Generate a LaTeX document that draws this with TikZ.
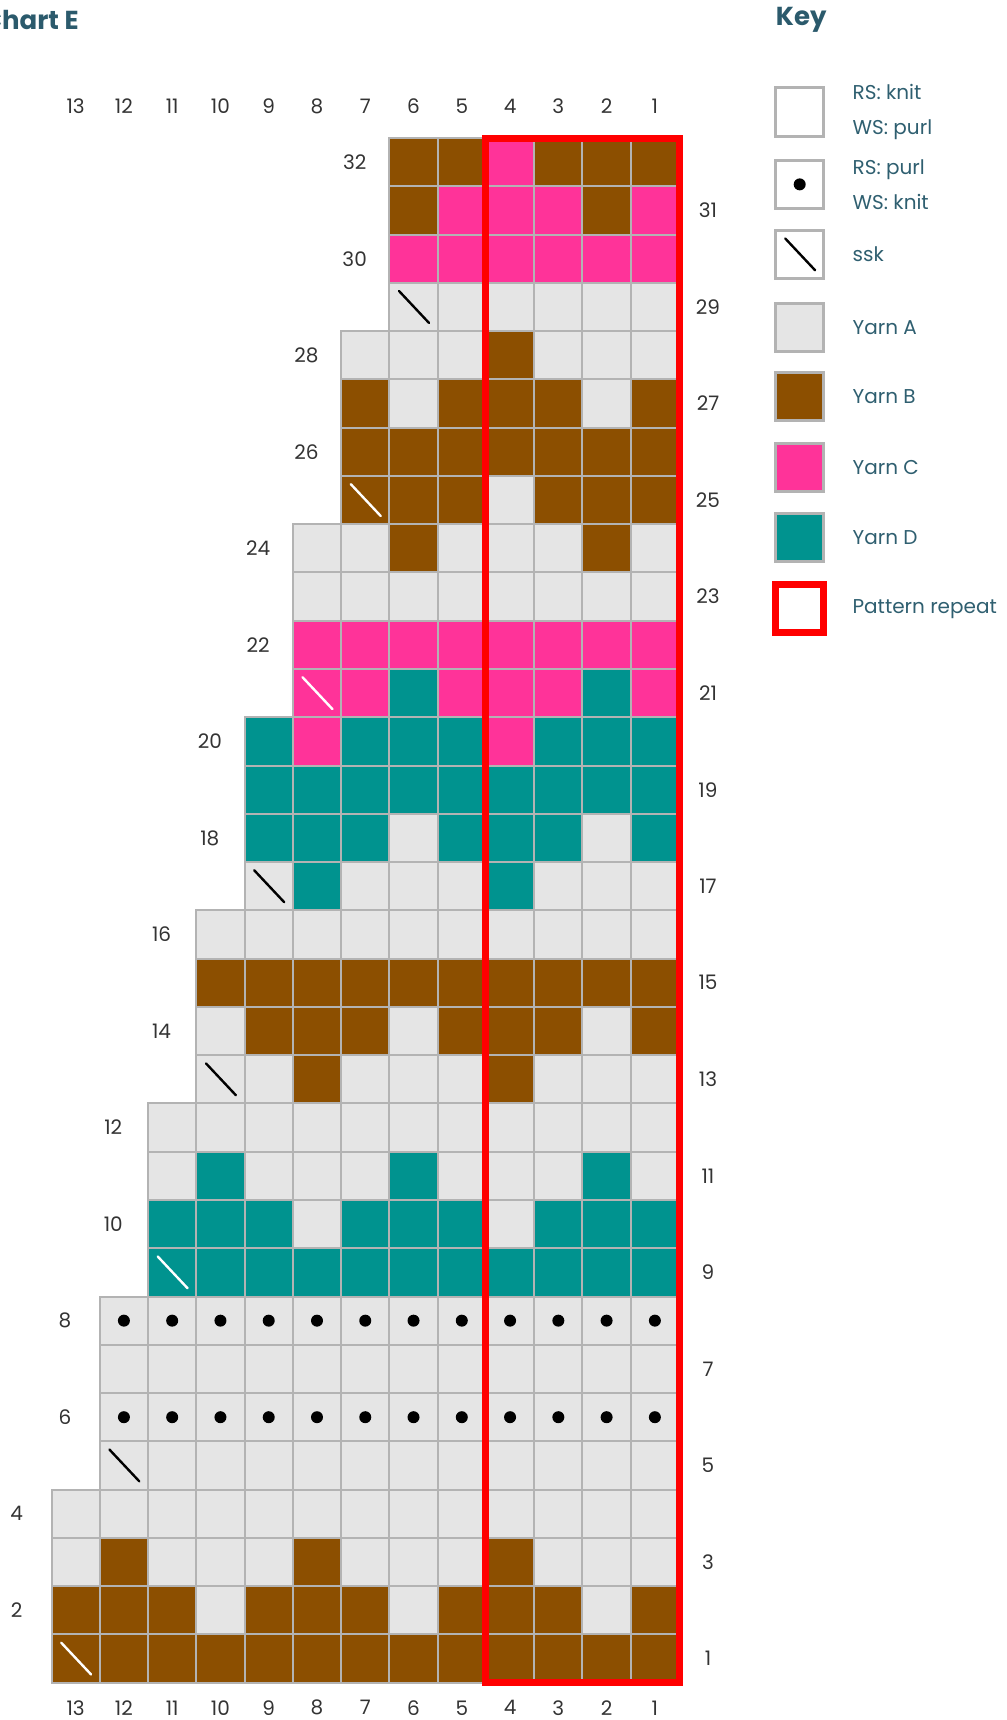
\documentclass[tikz,border=0pt]{standalone}
\usepackage{fontspec}
\setmainfont{Poppins}
\usetikzlibrary{positioning}
\definecolor{yarnA}{HTML}{E5E5E5}
\definecolor{yarnB}{HTML}{8C4F00}
\definecolor{yarnC}{HTML}{FF3399}
\definecolor{yarnD}{HTML}{00938F}
\definecolor{gridgrey}{HTML}{B3B3B3}
\definecolor{numgrey}{HTML}{333333}
\definecolor{keyteal}{HTML}{2F5F70}
\definecolor{titleteal}{HTML}{2B5A6C}
\tikzset{
  stitch/.style={rectangle,draw=gridgrey,line width=1pt,minimum size=24.135pt,inner sep=0pt,outer sep=0pt},
  yarnA/.style={stitch,fill=yarnA},
  yarnB/.style={stitch,fill=yarnB},
  yarnC/.style={stitch,fill=yarnC},
  yarnD/.style={stitch,fill=yarnD},
  sskline/.style={line width=1.2pt,line cap=round},
  sskA/.style={sskline,black},
  sskB/.style={sskline,white},
  sskC/.style={sskline,white},
  sskD/.style={sskline,white},
  purldot/.style={circle,fill=black,inner sep=0pt,minimum size=6pt},
  chartnum/.style={font=\fontsize{10}{12}\selectfont,text=numgrey,inner sep=0pt},
  keybox/.style={rectangle,draw=gridgrey,line width=1.5pt,minimum size=24.135pt,inner sep=0pt,outer sep=0pt,fill=white},
  keytext/.style={font=\fontsize{10}{17.5}\selectfont,text=keyteal,inner sep=0pt,align=left},
  keytitle/.style={font=\fontsize{13}{15}\selectfont\bfseries,text=titleteal,inner sep=0pt},
  repeatbox/.style={draw=red,line width=3.5pt},
}
\begin{document}
\begin{tikzpicture}[x=24.135pt,y=24.135pt]
  \useasboundingbox (-1.067,-0.773) rectangle (19.79,34.86);
  % chart, each row read left to right as printed
  \foreach \r/\cols in {
    1/{B,B,B,B,B,B,B,B,B,B,B,B,B},
    2/{B,B,B,A,B,B,B,A,B,B,B,A,B},
    3/{A,B,A,A,A,B,A,A,A,B,A,A,A},
    4/{A,A,A,A,A,A,A,A,A,A,A,A,A},
    5/{A,A,A,A,A,A,A,A,A,A,A,A},
    6/{A,A,A,A,A,A,A,A,A,A,A,A},
    7/{A,A,A,A,A,A,A,A,A,A,A,A},
    8/{A,A,A,A,A,A,A,A,A,A,A,A},
    9/{D,D,D,D,D,D,D,D,D,D,D},
    10/{D,D,D,A,D,D,D,A,D,D,D},
    11/{A,D,A,A,A,D,A,A,A,D,A},
    12/{A,A,A,A,A,A,A,A,A,A,A},
    13/{A,A,B,A,A,A,B,A,A,A},
    14/{A,B,B,B,A,B,B,B,A,B},
    15/{B,B,B,B,B,B,B,B,B,B},
    16/{A,A,A,A,A,A,A,A,A,A},
    17/{A,D,A,A,A,D,A,A,A},
    18/{D,D,D,A,D,D,D,A,D},
    19/{D,D,D,D,D,D,D,D,D},
    20/{D,C,D,D,D,C,D,D,D},
    21/{C,C,D,C,C,C,D,C},
    22/{C,C,C,C,C,C,C,C},
    23/{A,A,A,A,A,A,A,A},
    24/{A,A,B,A,A,A,B,A},
    25/{B,B,B,A,B,B,B},
    26/{B,B,B,B,B,B,B},
    27/{B,A,B,B,B,A,B},
    28/{A,A,A,B,A,A,A},
    29/{A,A,A,A,A,A},
    30/{C,C,C,C,C,C},
    31/{B,C,C,C,B,C},
    32/{B,B,C,B,B,B}}{
    \pgfmathtruncatemacro\n{13-int((\r-1)/4)}
    \foreach \k [count=\i] in \cols {
      \pgfmathtruncatemacro\c{\n-\i+1}
      \node[yarn\k] (c\r-\c) at (13-\n+\i-0.5,\r-0.5) {};
    }
  }
  % ssk decreases
  \foreach \r/\c/\k in {1/13/B,5/12/A,9/11/D,13/10/A,17/9/A,21/8/C,25/7/B,29/6/A}
    \draw[ssk\k] ([shift={(-0.3,0.33)}]c\r-\c.center) -- ([shift={(0.32,-0.33)}]c\r-\c.center);
  % purl rows
  \foreach \r in {6,8}
    \foreach \c in {1,...,12}
      \node[purldot] (p\r-\c) at (c\r-\c) {};
  % row numbers
  \foreach \r in {2,4,...,32}{
    \pgfmathtruncatemacro\n{13-int((\r-1)/4)}
    \node[chartnum] (l\r) at (13-\n-0.72,\r-0.5) {\r};
  }
  \foreach \r in {1,3,...,31}
    \node[chartnum] (l\r) at (13.6,\r-0.5) {\r};
  % stitch numbers
  \foreach \c in {1,...,13}{
    \node[chartnum] (top\c) at (13.5-\c,32.66) {\c};
    \node[chartnum] (bot\c) at (13.5-\c,-0.52) {\c};
  }
  \draw[repeatbox] (c1-4.south west) rectangle (c32-1.north east);
  % titles
  \node[keytitle,anchor=east] (chart) at (0.57,34.45) {Chart E};
  \node[keytitle,anchor=west] (key) at (15.0,34.45) {Key};
  % key
  \node[keybox] (kKnit) at (15.5,32.54) {};
  \node[keytext,right=14.2pt of kKnit] (tKnit) {RS: knit\\WS: purl};
  \node[keybox] (kPurl) at (15.5,31.04) {};
  \node[purldot] (kDot) at (kPurl) {};
  \node[keytext,right=14.2pt of kPurl] (tPurl) {RS: purl\\WS: knit};
  \node[keybox] (kSsk) at (15.5,29.59) {};
  \draw[sskA] ([shift={(-0.3,0.33)}]kSsk.center) -- ([shift={(0.32,-0.33)}]kSsk.center);
  \node[keytext,right=14.2pt of kSsk] (tSsk) {ssk};
  \node[keybox,fill=yarnA] (kA) at (15.5,28.07) {};
  \node[keytext,right=14.2pt of kA] (tA) {Yarn A};
  \node[keybox,fill=yarnB] (kB) at (15.5,26.64) {};
  \node[keytext,right=14.2pt of kB] (tB) {Yarn B};
  \node[keybox,fill=yarnC] (kC) at (15.5,25.18) {};
  \node[keytext,right=14.2pt of kC] (tC) {Yarn C};
  \node[keybox,fill=yarnD] (kD) at (15.5,23.72) {};
  \node[keytext,right=14.2pt of kD] (tD) {Yarn D};
  \node[keybox,repeatbox] (kRep) at (15.5,22.25) {};
  \node[keytext,right=14.2pt of kRep] (tRep) {Pattern repeat};
\end{tikzpicture}
\end{document}
